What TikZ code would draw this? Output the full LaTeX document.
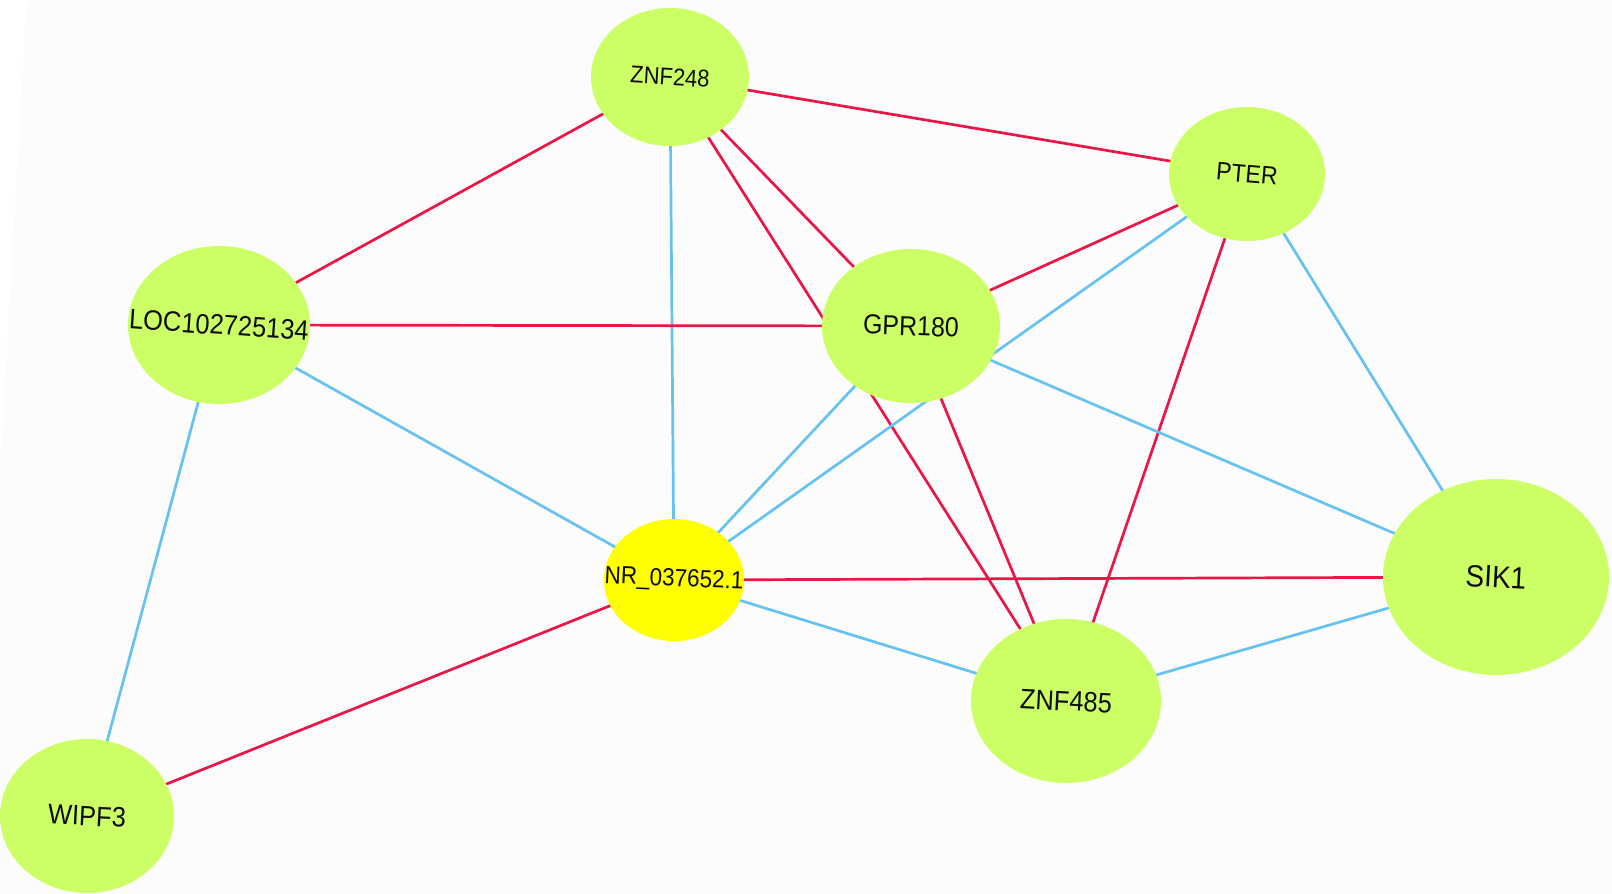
\documentclass[tikz,border=0pt]{standalone}
\usepackage{fontspec}
\setmainfont{Liberation Sans}
\usetikzlibrary{shapes.geometric}
\pgfdeclarelayer{bg}
\pgfdeclarelayer{edges}
\pgfsetlayers{bg,edges,main}
\definecolor{nodegreen}{RGB}{204,255,102}
\definecolor{nodeyellow}{RGB}{255,255,0}
\definecolor{edgered}{RGB}{235,22,72}
\definecolor{edgeblue}{RGB}{102,194,240}
\definecolor{pagebg}{RGB}{252,252,252}
\tikzset{
  gene/.style={ellipse, fill=nodegreen, draw=none, inner sep=0pt, text=black!95},
  lnc/.style={gene, fill=nodeyellow},
  redge/.style={draw=edgered, line width=2.7pt},
  bedge/.style={draw=edgeblue, line width=2.7pt},
}
\newcommand{\glab}[3]{\makebox[0pt]{\rotatebox[origin=c]{#1}{\scalebox{1}[1.1]{\fontsize{#2}{#2}\selectfont #3}}}}
\begin{document}
\begin{tikzpicture}[x=1pt,y=-1pt]
\begin{pgfonlayer}{bg}
  \fill[pagebg] (0,0) rectangle (1612,894);
  \fill[white] (0,0) -- (27,0) -- (0,476) -- cycle;
\end{pgfonlayer}
\useasboundingbox (0,0) rectangle (1612,894);

\node[gene, minimum width=158pt, minimum height=138pt] (znf248) at (670,77) {\glab{-3.5}{22}{ZNF248}};
\node[gene, minimum width=156pt, minimum height=134pt] (pter) at (1247,174) {\glab{-5}{23}{PTER}};
\node[gene, minimum width=182pt, minimum height=158pt] (loc) at (219,325) {\glab{-4}{25.5}{LOC102725134}};
\node[gene, minimum width=178pt, minimum height=154pt] (gpr) at (911,326) {\glab{-2}{25}{GPR180}};
\node[lnc, minimum width=140pt, minimum height=122pt] (nr) at (674,580) {\glab{-2.5}{22.5}{NR\_037652.1}};
\node[gene, minimum width=226pt, minimum height=196pt] (sik) at (1496,577) {\glab{-3}{28}{SIK1}};
\node[gene, minimum width=190pt, minimum height=164pt] (znf485) at (1066,701) {\glab{-3}{25.5}{ZNF485}};
\node[gene, minimum width=174pt, minimum height=154pt] (wipf) at (87,816) {\glab{-3}{25.5}{WIPF3}};

\begin{pgfonlayer}{edges}
  \draw[redge] (znf248.center) -- (pter.center);
  \draw[redge] (znf248.center) -- (loc.center);
  \draw[redge] (znf248.center) -- (gpr.center);
  \draw[redge] (znf248.center) -- (znf485.center);
  \draw[bedge] (znf248.center) -- (nr.center);
  \draw[redge] (pter.center) -- (gpr.center);
  \draw[redge] (pter.center) -- (znf485.center);
  \draw[bedge] (pter.center) -- (sik.center);
  \draw[bedge] (pter.center) -- (nr.center);
  \draw[redge] (loc.center) -- (gpr.center);
  \draw[bedge] (loc.center) -- (nr.center);
  \draw[bedge] (loc.center) -- (wipf.center);
  \draw[bedge] (gpr.center) -- (nr.center);
  \draw[bedge] (gpr.center) -- (sik.center);
  \draw[redge] (gpr.center) -- (znf485.center);
  \draw[redge] (nr.center) -- (sik.center);
  \draw[bedge] (nr.center) -- (znf485.center);
  \draw[redge] (nr.center) -- (wipf.center);
  \draw[bedge] (znf485.center) -- (sik.center);
\end{pgfonlayer}
\end{tikzpicture}
\end{document}
